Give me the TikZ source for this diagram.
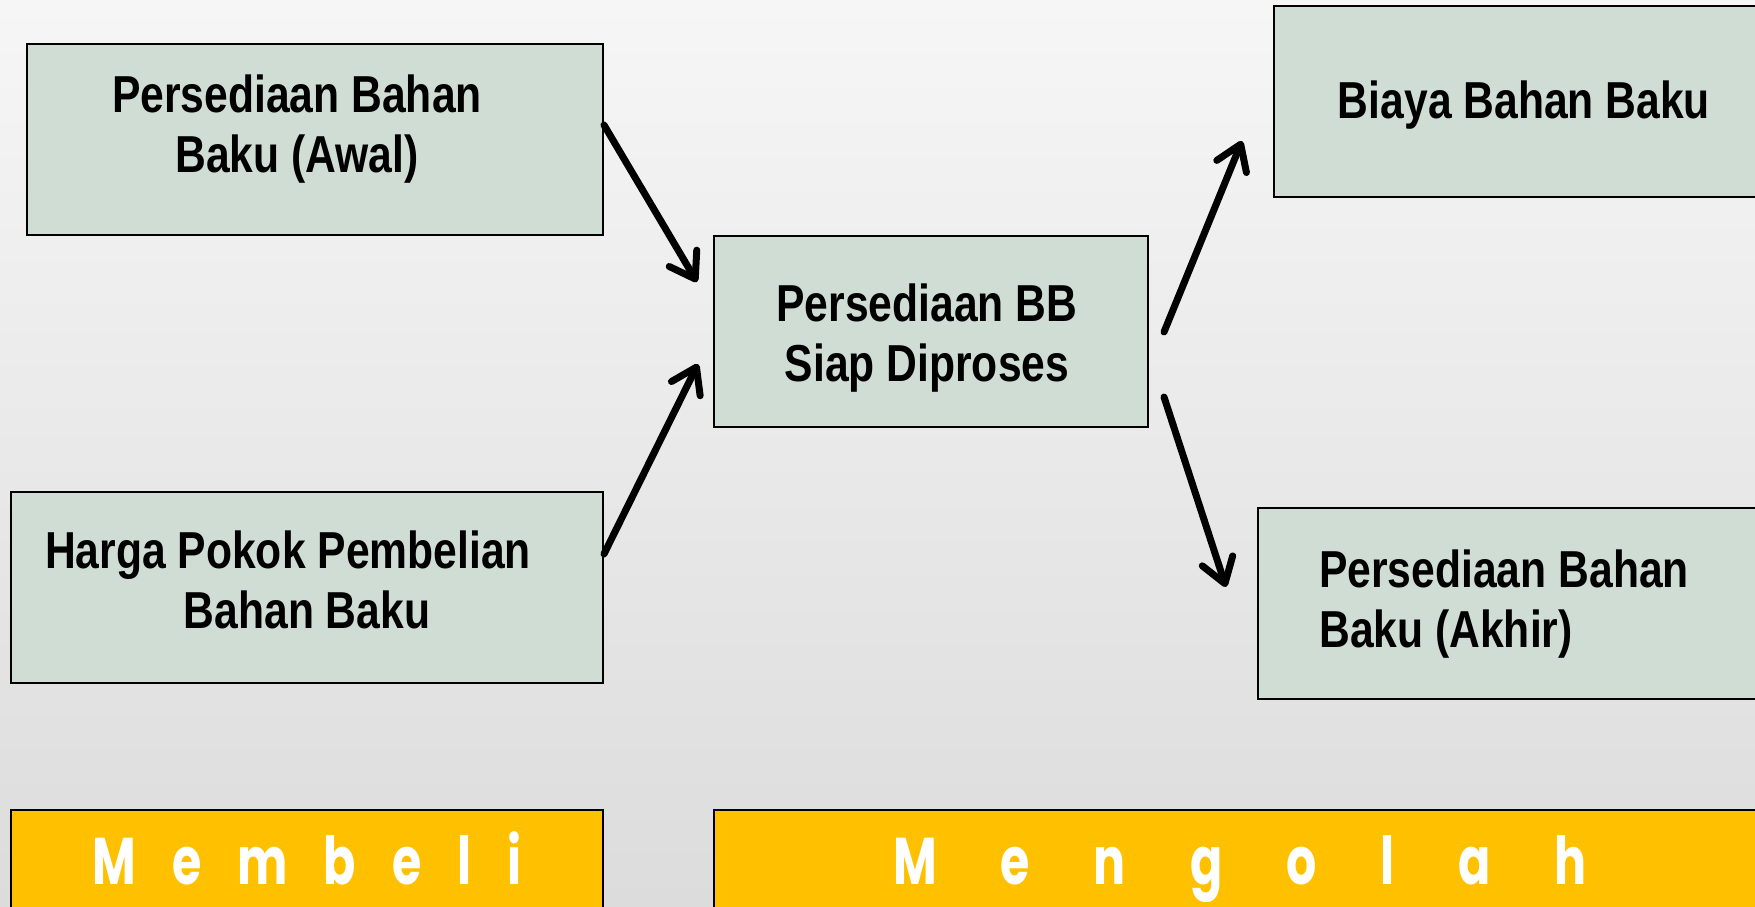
\documentclass[tikz,border=0pt]{standalone}
\usepackage{fontspec}
\setmainfont{Liberation Sans}[FakeStretch=0.82]
\newfontfamily\bannerfont{Poppins}[FakeStretch=0.72]
\usepackage{tikz}
\usetikzlibrary{arrows.meta, calc}
\definecolor{boxgreen}{HTML}{D0DDD4}
\definecolor{bannergold}{HTML}{FFC000}
\definecolor{bgtop}{HTML}{F6F6F6}
\definecolor{bgbot}{HTML}{DCDCDC}

\begin{document}
\begin{tikzpicture}[x=1pt, y=1pt,
      box/.style={draw, line width=2pt, fill=boxgreen, inner sep=0pt, minimum height=191pt},
      lbl/.style={font={\fontsize{52}{60}\selectfont\bfseries}, align=center, inner sep=0pt},
      banner/.style={draw, line width=1.5pt, fill=bannergold, inner sep=0pt, minimum height=110pt},
      bannertext/.style={text=white, inner sep=0pt, anchor=base,
                         font={\bannerfont\bfseries\fontsize{66}{70}\selectfont\spaceskip=#1\relax}},
      arrow/.style={line width=7pt, line cap=round, -{Straight Barb[length=24pt, width=32pt, round]}}
    ]
      \shade[top color=bgtop, bottom color=bgbot] (0,0) rectangle (1755,906);
      \useasboundingbox (0,0) rectangle (1755,906);

      % boxes
      \node[box, minimum width=576pt] (awal) at (315,766.5) {};
      \node[box, minimum width=592pt] (harga) at (307,318.5) {};
      \node[box, minimum width=434pt] (proses) at (931,574) {};
      \node[box, minimum width=500pt] (biaya) at (1524,804) {};
      \node[box, minimum width=517pt] (akhir) at (1516.5,303) {};
      \node[banner, minimum width=592pt] (membeli) at (307,41) {};
      \node[banner, minimum width=1061pt] (mengolah) at (1244.5,41) {};

      % texts
      \node[lbl] (tawal) at (297,776.5) {Persediaan Bahan\\Baku (Awal)};
      \node[lbl] (tharga) at (307,326.5) {Harga Pokok Pembelian\hspace*{38pt}\\Bahan Baku};
      \node[lbl] (tproses) at (927,567.5) {Persediaan BB\\Siap Diproses};
      \node[lbl] (tbiaya) at (1524,800.5) {Biaya Bahan Baku};
      \node[lbl, align=left, anchor=west] (takhir) at (1319,302) {Persediaan Bahan\\Baku (Akhir)};
      \node[bannertext=36pt] (tmembeli) at (307,22) {M e m b e l i};
      \node[bannertext=64pt] (tmengolah) at (1240,22) {M e n g o l a h};

      % arrows
      \draw[arrow] ($(awal.east)+(0,14.5)$) -- ($(proses.west)+(-16,50)$);
      \draw[arrow] ($(harga.east)+(0,33.5)$) -- ($(proses.west)+(-15,-32)$);
      \draw[arrow] ($(proses.east)+(15,0)$) -- ($(biaya.west)+(-31,-39)$);
      \draw[arrow] ($(proses.east)+(15,-65)$) -- ($(akhir.west)+(-31,16)$);
    \end{tikzpicture}
\end{document}
